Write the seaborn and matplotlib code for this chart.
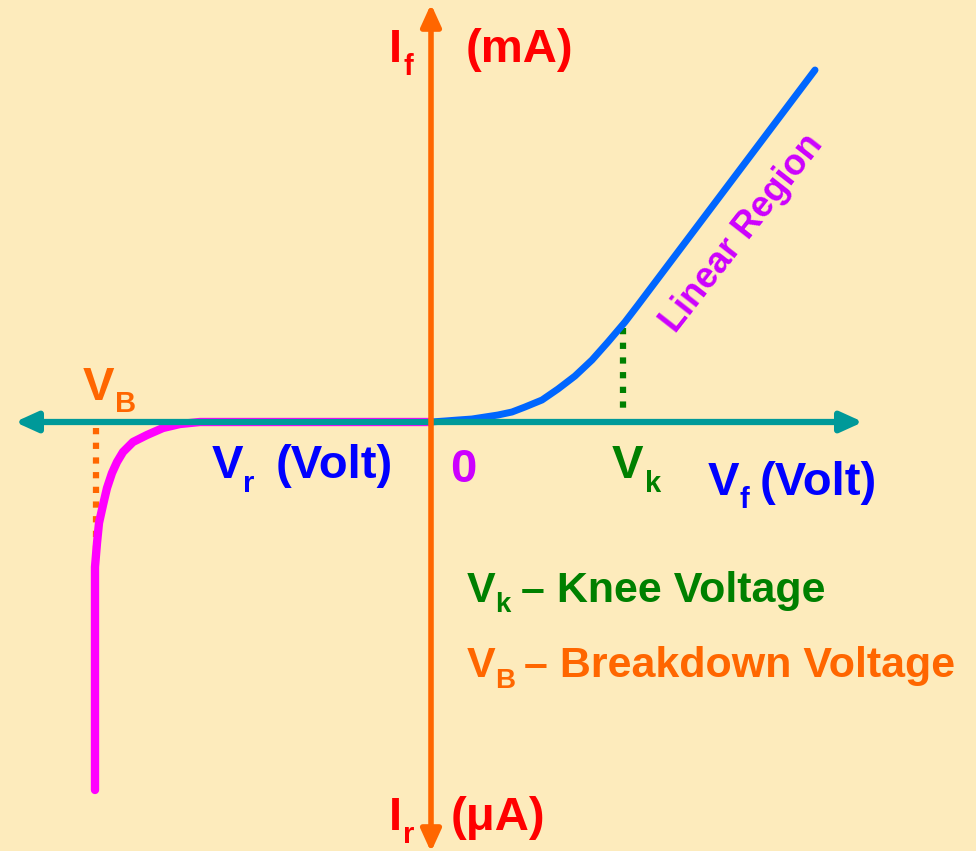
import numpy as np
import pandas as pd
import seaborn as sns
import matplotlib.pyplot as plt

# diode I-V characteristic (arbitrary units, origin at 0,0)
fwd_v = [0, 14, 27, 41, 54, 67, 81, 94, 111, 127, 144, 161, 177, 194, 207, 384]
fwd_i = [0, 1, 2, 3, 5, 7, 10, 15, 22, 33, 46, 62, 80, 100, 117, 352]
rev_v = [0, -231, -251, -268, -284, -298, -308, -314, -319, -324, -328, -332, -334, -336, -336, -336]
rev_i = [0, 0, -2, -6, -13, -20, -30, -40, -51, -66, -83, -101, -121, -145, -168, -368]
v_knee, i_knee = 192, 94
v_break = -335

bg = '#FDEBBC'
sns.set_theme(style='white')
plt.rcParams['font.family'] = ['Liberation Sans', 'DejaVu Sans']
plt.rcParams['font.weight'] = 'bold'

fig = plt.figure(figsize=(9.76, 8.51), dpi=100, facecolor=bg)
ax = fig.add_axes([0, 0, 1, 1])
ax.set_facecolor(bg)
ax.set_xlim(-431, 545)
ax.set_ylim(-429, 422)
ax.axis('off')

# axes arrows
ax.annotate('', xy=(-416, 0), xytext=(432, 0),
            arrowprops=dict(arrowstyle='<|-|>,head_length=1.1,head_width=0.5', color='#009999', lw=4.5,
                            shrinkA=0, shrinkB=0))
ax.annotate('', xy=(0, 418), xytext=(0, -430),
            arrowprops=dict(arrowstyle='<|-|>,head_length=1.1,head_width=0.5', color='#FF6600', lw=4,
                            shrinkA=0, shrinkB=0))

# dotted markers for knee and breakdown
ax.plot([v_knee, v_knee], [i_knee, 8], color='#008000', lw=4.5, ls=(0, (1, 1.35)))
ax.plot([v_break, v_break], [-6, -135], color='#FF6600', lw=4.5, ls=(0, (1, 1.35)))

fwd = pd.DataFrame({'v': fwd_v, 'i': fwd_i})
rev = pd.DataFrame({'v': rev_v, 'i': rev_i})
sns.lineplot(data=rev, x='v', y='i', sort=False, estimator=None, color='#FF00FF', lw=6, ax=ax)
sns.lineplot(data=fwd, x='v', y='i', sort=False, estimator=None, color='#0066FF', lw=5, ax=ax)

def px(x, y):
    return x - 431, 422 - y

def label(x, y, s, color, size=34):
    ax.text(*px(x, y), s, color=color, fontsize=size, fontweight='bold', va='baseline', ha='left')

red, orange, blue, green, purple = '#FF0000', '#FF6600', '#0000FF', '#008000', '#CC00FF'
sub = 21

label(389, 62, 'I', red)
label(403, 75, 'f', red, sub)
label(466, 62, '(mA)', red)
label(389, 830, 'I', red)
label(403, 843, 'r', red, sub)
label(451, 830, '(μA)', red)
label(83, 400, 'V', orange)
label(115, 412, 'B', orange, sub)
label(212, 478, 'V', blue)
label(243, 492, 'r', blue, sub)
label(276, 478, '(Volt)', blue)
label(450, 482, '0', purple)
label(612, 478, 'V', green)
label(645, 492, 'k', green, sub)
label(708, 495, 'V', blue)
label(740, 508, 'f', blue, sub)
label(760, 495, '(Volt)', blue)

label(467, 602, 'V', green, 31)
label(495, 612, 'k', green, 20)
label(521, 602, '– Knee Voltage', green, 31)
label(467, 677, 'V', orange, 31)
label(495, 688, 'B', orange, 20)
label(524, 677, '– Breakdown Voltage', orange, 31)

ax.text(*px(742, 233), 'Linear Region', color=purple, fontsize=26, fontweight='bold',
        rotation=52, rotation_mode='anchor', ha='center', va='center')

fig.savefig('out.png', dpi=100, facecolor=bg)
